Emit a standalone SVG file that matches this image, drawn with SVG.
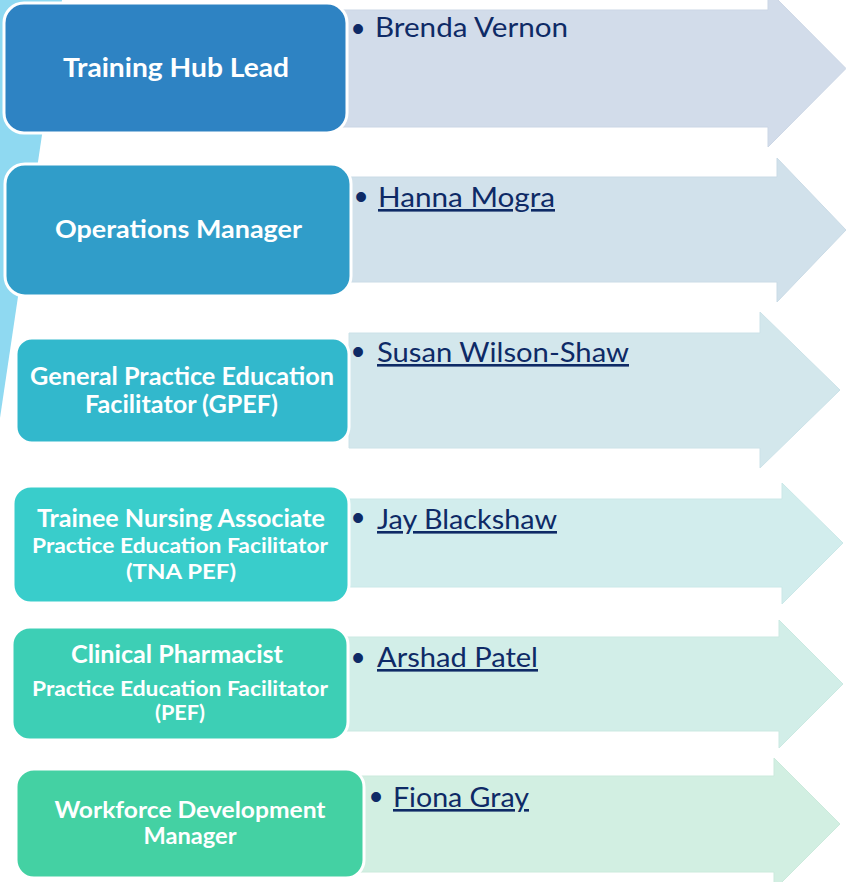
<svg xmlns="http://www.w3.org/2000/svg" width="846" height="882" viewBox="0 0 846 882">
<style>
  .box{stroke:#ffffff;stroke-width:3}
  .arrow{stroke-width:1}
  .lbl{font-family:Lato,"Open Sans","Liberation Sans",sans-serif;font-weight:700;fill:#ffffff;text-anchor:middle}
  .big{font-size:25px}
  .sm{font-size:21px}
  .name{font-family:Lato,"Open Sans","Liberation Sans",sans-serif;font-size:26px;fill:#0E2A66}
  .u{text-decoration:underline}
  .bul{font-family:"Liberation Sans",Arial,sans-serif;font-size:36px;fill:#0E2A66;text-anchor:middle}
</style>
<rect width="846" height="882" fill="#ffffff"/>
<polygon points="0,0 62,0 0,418" fill="#8FD9F1"/>
<g id="connectors">
  <polygon class="arrow" points="330,10 768,10 768,-10 846,68.5 768,147 768,127 330,127" fill="#D2DCEA" stroke="#CBD6E5"/>
  <polygon class="arrow" points="330,177 777,177 777,158 846,230 777,302 777,282 330,282" fill="#D1E1EB" stroke="#CADBE6"/>
  <polygon class="arrow" points="349,333 760,333 760,312 840,390 760,468 760,448 349,448" fill="#D3E7EC" stroke="#CCE2E8"/>
  <polygon class="arrow" points="330,499 782,499 782,483 843,543 782,604 782,587 330,587" fill="#D2EDED" stroke="#CBE8E8"/>
  <polygon class="arrow" points="330,637 779,637 779,620 843,684 779,748 779,731 330,731" fill="#D2EEE8" stroke="#CBE9E2"/>
  <polygon class="arrow" points="340,776 774,776 774,758 840,824 774,890 774,872 340,872" fill="#D2EFE2" stroke="#CBEADC"/>
</g>
<g id="node-training-hub-lead">
  <rect class="box" x="4" y="3" width="343" height="130" rx="20" fill="#2E83C3"/>
  <text class="lbl" x="176" y="77" font-size="27" textLength="226" lengthAdjust="spacingAndGlyphs">Training Hub Lead</text>
</g>
<g id="node-operations-manager">
  <rect class="box" x="5" y="164" width="346" height="132" rx="20" fill="#309DC9"/>
  <text class="lbl big" x="178.5" y="238" textLength="247" lengthAdjust="spacingAndGlyphs">Operations Manager</text>
</g>
<g id="node-gpef">
  <rect class="box" x="16" y="338" width="333" height="105" rx="16" fill="#32B8CC"/>
  <text class="lbl big" x="182" y="385" textLength="304" lengthAdjust="spacingAndGlyphs">General Practice Education</text>
  <text class="lbl big" x="181.5" y="413" textLength="193" lengthAdjust="spacingAndGlyphs">Facilitator (GPEF)</text>
</g>
<g id="node-tna-pef">
  <rect class="box" x="13" y="486" width="336" height="117" rx="18" fill="#39CDCB"/>
  <text class="lbl big" x="181" y="527" textLength="288" lengthAdjust="spacingAndGlyphs">Trainee Nursing Associate</text>
  <text class="lbl sm" x="180" y="553" textLength="296" lengthAdjust="spacingAndGlyphs">Practice Education Facilitator</text>
  <text class="lbl sm" x="181" y="579" textLength="110" lengthAdjust="spacingAndGlyphs">(TNA PEF)</text>
</g>
<g id="node-clinical-pharmacist-pef">
  <rect class="box" x="12" y="627" width="336" height="113" rx="18" fill="#3DCFB5"/>
  <text class="lbl big" x="177" y="663" textLength="212" lengthAdjust="spacingAndGlyphs">Clinical Pharmacist</text>
  <text class="lbl sm" x="180" y="696" textLength="296" lengthAdjust="spacingAndGlyphs">Practice Education Facilitator</text>
  <text class="lbl sm" x="180" y="720" textLength="50" lengthAdjust="spacingAndGlyphs">(PEF)</text>
</g>
<g id="node-workforce-development-manager">
  <rect class="box" x="16" y="769" width="348" height="109" rx="18" fill="#44D1A3"/>
  <text class="lbl" x="190" y="818" font-size="23" textLength="271" lengthAdjust="spacingAndGlyphs">Workforce Development</text>
  <text class="lbl" x="190" y="844" font-size="23" textLength="93" lengthAdjust="spacingAndGlyphs">Manager</text>
</g>
<g id="names">
  <text class="bul" x="358" y="41">•</text>
  <text class="name" x="375" y="37" textLength="193" lengthAdjust="spacingAndGlyphs">Brenda Vernon</text>
  <text class="bul" x="361" y="209">•</text>
  <text class="name u" x="378" y="207" textLength="177" lengthAdjust="spacingAndGlyphs">Hanna Mogra</text>
  <text class="bul" x="358" y="364">•</text>
  <text class="name u" x="377" y="362" textLength="252" lengthAdjust="spacingAndGlyphs">Susan Wilson-Shaw</text>
  <text class="bul" x="358" y="530">•</text>
  <text class="name u" x="377" y="529" textLength="180" lengthAdjust="spacingAndGlyphs">Jay Blackshaw</text>
  <text class="bul" x="358" y="670">•</text>
  <text class="name u" x="377" y="667" textLength="161" lengthAdjust="spacingAndGlyphs">Arshad Patel</text>
  <text class="bul" x="376" y="809">•</text>
  <text class="name u" x="393" y="807" textLength="136" lengthAdjust="spacingAndGlyphs">Fiona Gray</text>
</g>
</svg>
